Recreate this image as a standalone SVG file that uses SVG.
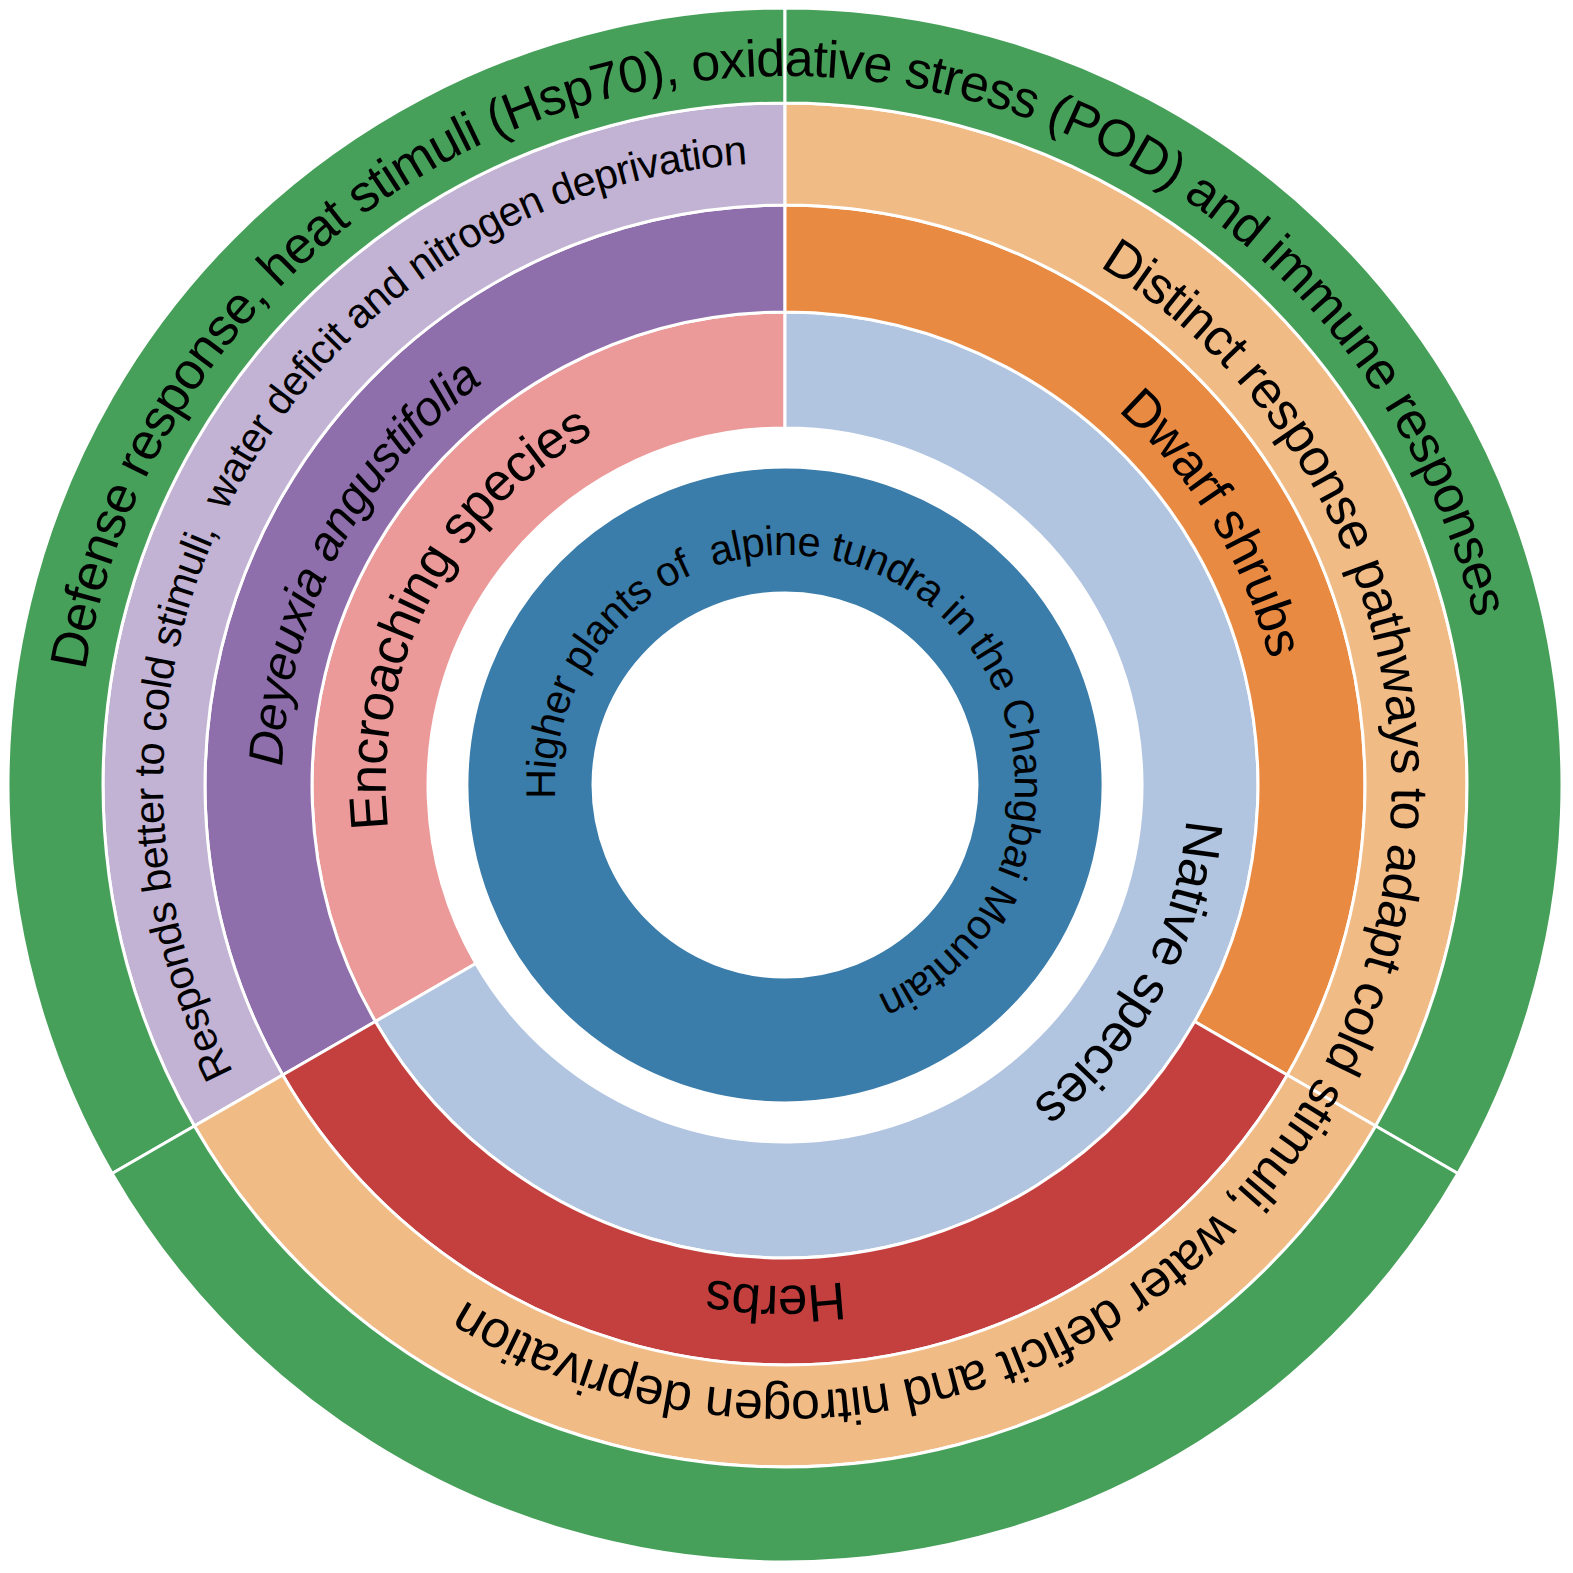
<svg xmlns="http://www.w3.org/2000/svg" width="1573" height="1573" viewBox="0 0 1573 1573">
<style>
.seg{stroke:#ffffff;stroke-width:3;stroke-linejoin:miter}
.lbl{font-family:"Liberation Sans",Arial,Helvetica,sans-serif;fill:#000000;text-anchor:middle;white-space:pre}
.it{font-style:italic}
</style>
<defs>
<path id="tp-root" d="M665.17,981.32 A230,230 0 0 1 904.83,588.68 A230,230 0 0 1 665.17,981.32"/>
<path id="tp-enc" d="M1139.80,969.70 A400,400 0 0 1 430.20,600.30 A400,400 0 0 1 1139.80,969.70"/>
<path id="tp-nat" d="M430.84,592.70 A403,403 0 0 1 1139.16,977.30 A403,403 0 0 1 430.84,592.70"/>
<path id="tp-dey" d="M1230.76,1018.04 A503,503 0 0 1 339.24,551.96 A503,503 0 0 1 1230.76,1018.04"/>
<path id="tp-dwf" d="M357.83,1046.77 A501,501 0 0 1 1212.17,523.23 A501,501 0 0 1 357.83,1046.77"/>
<path id="tp-hrb" d="M793.74,284.08 A501,501 0 0 1 776.26,1285.92 A501,501 0 0 1 793.74,284.08"/>
<path id="tp-rsp" d="M1326.36,1091.29 A622,622 0 0 1 243.64,478.71 A622,622 0 0 1 1326.36,1091.29"/>
<path id="tp-dst" d="M267.45,467.84 A607,607 0 0 1 1302.55,1102.16 A607,607 0 0 1 267.45,467.84"/>
<path id="tp-def" d="M812.22,1493.48 A709,709 0 0 1 757.78,76.52 A709,709 0 0 1 812.22,1493.48"/>
</defs>
<rect x="0" y="0" width="1573" height="1573" fill="#ffffff"/>

<g id="node-root">
<path class="seg" fill="#3a7caa" fill-rule="evenodd" d="M785,467 A318,318 0 1 1 785,1103 A318,318 0 1 1 785,467 Z M785,593 A192,192 0 1 0 785,977 A192,192 0 1 0 785,593 Z"/>
<text class="lbl" font-size="41.5" letter-spacing="-0.65" xml:space="preserve"><textPath href="#tp-root" startOffset="50%">Higher plants of  alpine tundra in the Changbai Mountain</textPath></text>
</g>

<g id="node-encroaching">
<path class="seg" fill="#eb9a99" d="M375.37,1021.5 A473,473 0 0 1 785,312 L785,428 A357,357 0 0 0 475.83,963.5 Z"/>
<text class="lbl" font-size="53" letter-spacing="-0.95" xml:space="preserve"><textPath href="#tp-enc" startOffset="50%">Encroaching species</textPath></text>
</g>

<g id="node-native">
<path class="seg" fill="#b1c5e1" d="M785,312 A473,473 0 1 1 375.37,1021.5 L475.83,963.5 A357,357 0 1 0 785,428 Z"/>
<text class="lbl" font-size="53" letter-spacing="-0.9" xml:space="preserve"><textPath href="#tp-nat" startOffset="50%">Native species</textPath></text>
</g>

<g id="node-deyeuxia">
<path class="seg" fill="#8e6eab" d="M282.71,1075 A580,580 0 0 1 785,205 L785,312 A473,473 0 0 0 375.37,1021.5 Z"/>
<text class="lbl it" font-size="48.5" letter-spacing="-0.65" xml:space="preserve"><textPath href="#tp-dey" startOffset="50%">Deyeuxia angustifolia</textPath></text>
</g>

<g id="node-dwarf-shrubs">
<path class="seg" fill="#e88a42" d="M785,205 A580,580 0 0 1 1287.29,1075 L1194.63,1021.5 A473,473 0 0 0 785,312 Z"/>
<text class="lbl" font-size="52" letter-spacing="-0.95" xml:space="preserve"><textPath href="#tp-dwf" startOffset="50%">Dwarf shrubs</textPath></text>
</g>

<g id="node-herbs">
<path class="seg" fill="#c4403f" d="M1287.29,1075 A580,580 0 0 1 282.71,1075 L375.37,1021.5 A473,473 0 0 0 1194.63,1021.5 Z"/>
<text class="lbl" font-size="53" letter-spacing="-1.05" xml:space="preserve"><textPath href="#tp-hrb" startOffset="50%">Herbs</textPath></text>
</g>

<g id="node-responds">
<path class="seg" fill="#c2b2d3" d="M194.37,1126 A682,682 0 0 1 785,103 L785,205 A580,580 0 0 0 282.71,1075 Z"/>
<text class="lbl" font-size="41.5" letter-spacing="-0.6" xml:space="preserve"><textPath href="#tp-rsp" startOffset="50%">Responds better to cold stimuli,  water deficit and nitrogen deprivation</textPath></text>
</g>

<g id="node-distinct">
<path class="seg" fill="#f1bb86" d="M785,103 A682,682 0 0 1 1375.63,1126 L1287.29,1075 A580,580 0 0 0 785,205 Z"/>
<path class="seg" fill="#f1bb86" d="M1375.63,1126 A682,682 0 0 1 194.37,1126 L282.71,1075 A580,580 0 0 0 1287.29,1075 Z"/>
<text class="lbl" font-size="52" letter-spacing="-0.85" xml:space="preserve"><textPath href="#tp-dst" startOffset="50%">Distinct response pathways to adapt cold stimuli, water deficit and nitrogen deprivation</textPath></text>
</g>

<g id="node-defense">
<path class="seg" fill="#46a059" d="M112.1,1173.5 A777,777 0 0 1 785,8 L785,103 A682,682 0 0 0 194.37,1126 Z"/>
<path class="seg" fill="#46a059" d="M785,8 A777,777 0 0 1 1457.9,1173.5 L1375.63,1126 A682,682 0 0 0 785,103 Z"/>
<path class="seg" fill="#46a059" d="M1457.9,1173.5 A777,777 0 0 1 112.1,1173.5 L194.37,1126 A682,682 0 0 0 1375.63,1126 Z"/>
<text class="lbl" font-size="52" letter-spacing="-0.9" xml:space="preserve"><textPath href="#tp-def" startOffset="50%">Defense response, heat stimuli (Hsp70), oxidative stress (POD) and immune responses</textPath></text>
</g>

<g id="connectors"/>
</svg>
